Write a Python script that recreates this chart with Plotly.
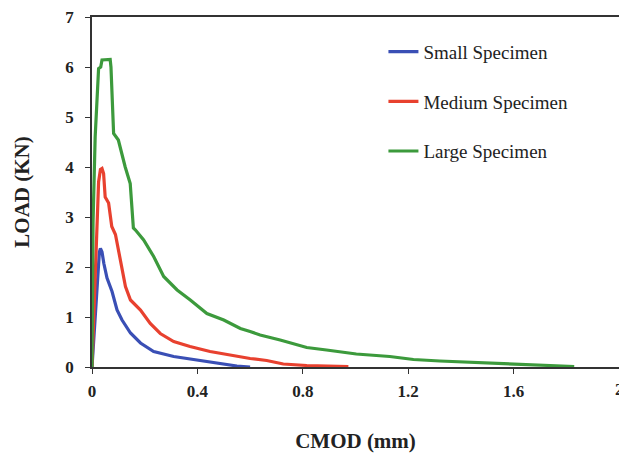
import plotly.graph_objects as go

# Small specimen
small_x = [0, 0.01, 0.02, 0.028, 0.032, 0.038, 0.045, 0.057, 0.076, 0.095, 0.114, 0.146, 0.184, 0.234, 0.31, 0.398, 0.498, 0.55, 0.6]
small_y = [0, 0.9, 1.75, 2.3, 2.37, 2.3, 2.07, 1.78, 1.51, 1.14, 0.94, 0.68, 0.48, 0.31, 0.21, 0.14, 0.06, 0.02, 0.0]

# Medium specimen
medium_x = [0, 0.018, 0.025, 0.032, 0.038, 0.044, 0.05, 0.063, 0.075, 0.089, 0.108, 0.127, 0.146, 0.184, 0.221, 0.259, 0.31, 0.372, 0.448, 0.524, 0.563, 0.6, 0.663, 0.726, 0.815, 0.973]
medium_y = [0, 2.9, 3.7, 3.95, 3.97, 3.87, 3.4, 3.28, 2.81, 2.65, 2.14, 1.61, 1.34, 1.14, 0.87, 0.67, 0.51, 0.41, 0.31, 0.24, 0.19, 0.17, 0.13, 0.06, 0.03, 0.01]

# Large specimen
large_x = [0, 0.004, 0.012, 0.019, 0.025, 0.033, 0.038, 0.069, 0.072, 0.082, 0.1, 0.126, 0.145, 0.157, 0.165, 0.196, 0.234, 0.272, 0.323, 0.373, 0.436, 0.5, 0.563, 0.6, 0.638, 0.714, 0.815, 0.89, 1.003, 1.13, 1.22, 1.32, 1.37, 1.5, 1.62, 1.83]
large_y = [0, 2.9, 4.6, 5.4, 5.97, 6.0, 6.14, 6.15, 6.0, 4.67, 4.54, 4.0, 3.67, 2.78, 2.74, 2.54, 2.21, 1.81, 1.54, 1.34, 1.07, 0.94, 0.77, 0.71, 0.64, 0.54, 0.39, 0.34, 0.26, 0.21, 0.15, 0.12, 0.11, 0.07, 0.05, 0.01]

names = ["Small Specimen", "Medium Specimen", "Large Specimen"]
colors = ["#3a4fb5", "#e8412f", "#3c9a3c"]

x_ticks = [0, 0.4, 0.8, 1.2, 1.6]
x_ticktext = ["0", "0.4", "0.8", "1.2", "1.6"]
x_last_tick = 2
y_ticks = [0, 1, 2, 3, 4, 5, 6, 7]

fig = go.Figure()
for i, (xs, ys) in enumerate([(small_x, small_y), (medium_x, medium_y), (large_x, large_y)]):
    fig.add_trace(go.Scatter(x=xs, y=ys, mode="lines", name=names[i],
                             line=dict(color=colors[i], width=3.2),
                             legendgroup=str(i)))

tick_font = dict(family="Liberation Serif", size=17, color="#222222", weight="bold")

fig.add_annotation(x=x_last_tick, y=0, xref="x", yref="y", text=str(x_last_tick),
                   showarrow=False, yanchor="top", yshift=-11, font=tick_font)

fig.update_layout(
    width=619, height=453,
    margin=dict(l=92, r=0, t=17, b=86, autoexpand=False),
    paper_bgcolor="white", plot_bgcolor="white",
    showlegend=True,
    legend=dict(x=0.553, y=0.955, xanchor="left", yanchor="top",
                font=dict(family="Liberation Serif", size=19, color="#222222"),
                tracegroupgap=22, bgcolor="rgba(0,0,0,0)", itemwidth=30),
    xaxis=dict(range=[0, 2], tickvals=x_ticks + [x_last_tick], ticktext=x_ticktext + [""],
               showline=True, linecolor="#333333", linewidth=1.5, mirror=True,
               ticks="outside", ticklen=5, tickcolor="#333333",
               showgrid=False, zeroline=False, tickfont=tick_font,
               ticklabelstandoff=3, automargin=False,
               title=dict(text="CMOD (mm)", standoff=38,
                          font=dict(family="Liberation Serif", size=21, color="#222222", weight="bold"))),
    yaxis=dict(range=[0, 7], tickvals=y_ticks,
               showline=True, linecolor="#333333", linewidth=1.5,
               ticks="outside", ticklen=5, tickcolor="#333333",
               showgrid=False, zeroline=False, tickfont=tick_font,
               ticklabelstandoff=8, automargin=False,
               title=dict(text="LOAD (KN)", standoff=30,
                          font=dict(family="Liberation Serif", size=21, color="#222222", weight="bold"))),
)

fig.write_html("out.html")
